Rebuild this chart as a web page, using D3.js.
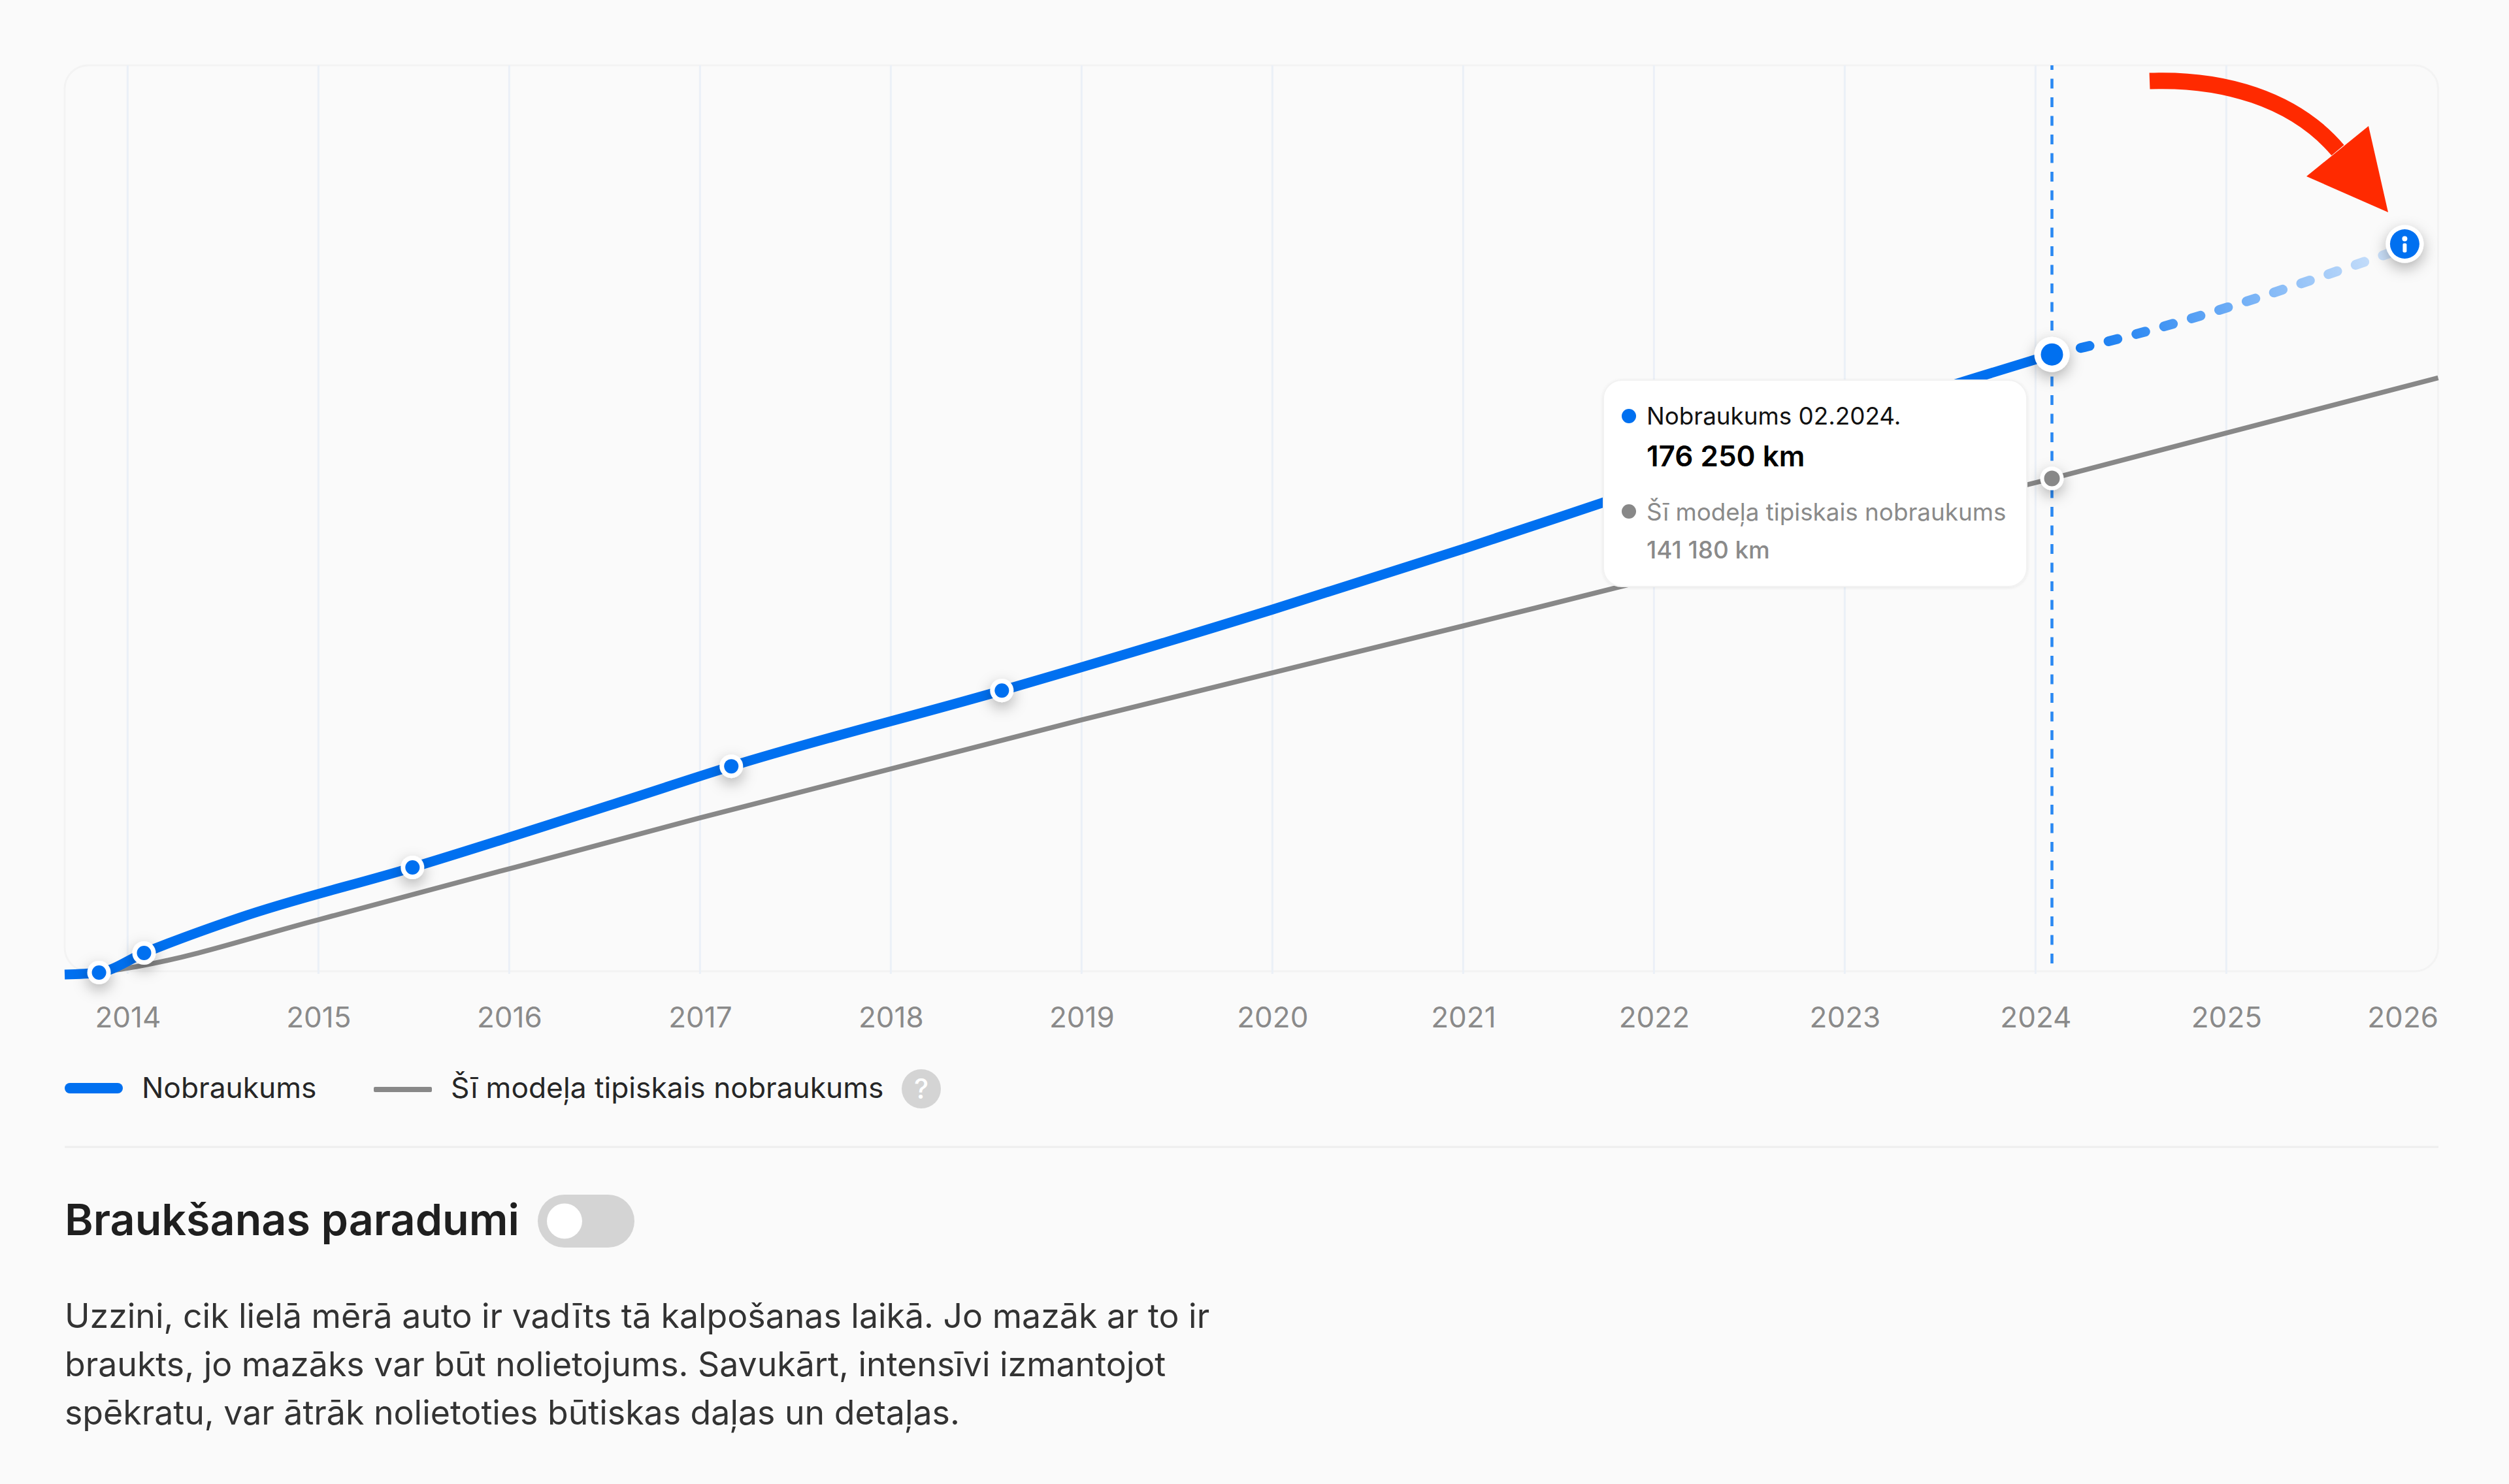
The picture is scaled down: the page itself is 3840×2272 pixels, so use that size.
<!DOCTYPE html>
<html><head><meta charset="utf-8">
<script src="https://cdn.jsdelivr.net/npm/d3@7/dist/d3.min.js"></script>
<style>
html,body{margin:0;padding:0;background:#FAFAFA;}
svg{display:block;}
text{font-family:Inter,"Noto Sans",sans-serif;}
</style></head><body>
<svg id="c" width="3840" height="2272" viewBox="0 0 3840 2272"></svg>
<script>
// ---- data ----
const mileageYears = [2013.67,2013.85,2014.086,2014.586,2015.493,2016.589,2017.164,2018.582,2020.0,2021.003,2021.723,2023.664,2024.086];
const mileageKm    = [920,1480,7015,16980,31200,49840,59810,81220,104110,121300,134200,169280,176250];
const typicalYears = [2013.85,2014.045,2015.0,2017.0,2019.0,2021.0,2024.086,2026.11];
const typicalKm    = [1480,3140,16430,45230,72920,99500,141180,169650];
const forecastYears = [2024.086,2024.257,2025.935];
const forecastKm    = [176250,178340,206400];
const infoYear = 2025.935, infoKm = 207490;
const recordYears = [2013.85,2014.086,2015.493,2017.164,2018.582];
const recordKm    = [1480,7015,31200,59810,81220];
const tickYears = [2014,2015,2016,2017,2018,2019,2020,2021,2022,2023,2024,2025,2026];
const gridYears = [2014,2015,2016,2017,2018,2019,2020,2021,2022,2023,2024,2025];
const legendLabels = ["Nobraukums","Šī modeļa tipiskais nobraukums"];
const tooltipLines = ["Nobraukums 02.2024.","176 250 km","Šī modeļa tipiskais nobraukums","141 180 km"];
const bodyLines = ["Uzzini, cik lielā mērā auto ir vadīts tā kalpošanas laikā. Jo mazāk ar to ir","braukts, jo mazāks var būt nolietojums. Savukārt, intensīvi izmantojot","spēkratu, var ātrāk nolietoties būtiskas daļas un detaļas."];
const headingText = "Braukšanas paradumi";

const BLUE="#0070F0", GRAY="#888888", RED="#FF2A00";
const pL=99,pR=3731.5,pT=100,pB=1487;
const svg=d3.select("#c");
const defs=svg.append("defs");
const xS=d3.scaleLinear().domain([2013.67,2026.11]).range([pL,pR]);
const yS=d3.scaleLinear().domain([0,258000]).range([1497,pT]);
const f=defs.append("filter").attr("id","sh").attr("x","-100%").attr("y","-100%").attr("width","300%").attr("height","300%");
f.append("feDropShadow").attr("dx",0).attr("dy",8).attr("stdDeviation",11).attr("flood-color","#000").attr("flood-opacity",.3);
const ft=defs.append("filter").attr("id","tt").attr("x","-10%").attr("y","-10%").attr("width","120%").attr("height","120%");
ft.append("feDropShadow").attr("dx",0).attr("dy",1).attr("stdDeviation",2).attr("flood-color","#000").attr("flood-opacity",.08);
const gr=defs.append("linearGradient").attr("id","fade").attr("gradientUnits","userSpaceOnUse")
 .attr("x1",xS(forecastYears[0])).attr("y1",yS(forecastKm[0])).attr("x2",xS(infoYear)).attr("y2",yS(forecastKm[2]));
gr.append("stop").attr("offset",0).attr("stop-color",BLUE);
gr.append("stop").attr("offset",1).attr("stop-color","#D8E8FB");

// plot frame
svg.append("rect").attr("x",pL).attr("y",pT).attr("width",pR-pL).attr("height",pB-pT)
 .attr("rx",36).attr("fill","#FAFAFA").attr("stroke","#F3F3F3").attr("stroke-width",3);
// grid
svg.append("g").selectAll("line").data(gridYears).join("line")
 .attr("x1",d=>xS(d)).attr("x2",d=>xS(d)).attr("y1",pT).attr("y2",pB+4)
 .attr("stroke","#EBF0F7").attr("stroke-width",3);
// axis
const axis=svg.append("g").attr("transform",`translate(0,${pB})`)
 .call(d3.axisBottom(xS).tickValues(tickYears).tickFormat(d3.format("d")).tickSize(0));
axis.select(".domain").remove();
axis.selectAll("text").attr("fill","#8A8A8A").style("font-size","44px").style("font-family","Inter")
 .attr("y",86).attr("dy",0)
 .attr("x",d=>d===2026?pR-xS(2026):0).attr("text-anchor",d=>d===2026?"end":"middle");

const lineGen=d3.line().x(d=>xS(d[0])).y(d=>yS(d[1])).curve(d3.curveMonotoneX);
const zip=(a,b)=>a.map((v,i)=>[v,b[i]]);
// typical
svg.append("path").attr("d",lineGen(zip(typicalYears,typicalKm))).attr("fill","none").attr("stroke",GRAY).attr("stroke-width",7.5);
// current marker line
svg.append("line").attr("x1",xS(2024.086)).attr("x2",xS(2024.086)).attr("y1",pT).attr("y2",1477)
 .attr("stroke","#2A88F2").attr("stroke-width",4.5).attr("stroke-dasharray","15 13.5").attr("stroke-dashoffset",8);
// forecast
svg.append("path").attr("d",lineGen(zip(forecastYears,forecastKm))).attr("fill","none").attr("stroke","url(#fade)")
 .attr("stroke-width",15).attr("stroke-linecap","round").attr("stroke-dasharray","14 30").attr("stroke-dashoffset",-45);
// mileage
svg.append("path").attr("d",lineGen(zip(mileageYears,mileageKm))).attr("fill","none").attr("stroke",BLUE).attr("stroke-width",15);

function dot(cx,cy,ro,ri,col){
  const d=svg.append("g");
  d.append("circle").attr("cx",cx).attr("cy",cy).attr("r",ro).attr("fill","#fff").attr("filter","url(#sh)");
  d.append("circle").attr("cx",cx).attr("cy",cy).attr("r",ri).attr("fill",col);
  return d;
}
recordYears.forEach((v,i)=>dot(xS(v),yS(recordKm[i]),18,11,BLUE));
dot(xS(2024.086),yS(176250),27,17,BLUE);
dot(xS(2024.086),yS(141180),18,12,GRAY);
const ix=xS(infoYear), iy=yS(infoKm);
const info=dot(ix,iy,29,22.5,BLUE);
info.append("circle").attr("cx",ix).attr("cy",iy-8).attr("r",4).attr("fill","#fff");
info.append("rect").attr("x",ix-3).attr("y",iy-1).attr("width",6).attr("height",14).attr("rx",2).attr("fill","#fff");

// tooltip
const tx=2454,ty=582;
svg.append("rect").attr("x",tx).attr("y",ty).attr("width",648).attr("height",316).attr("rx",28)
 .attr("fill","#fff").attr("stroke","#F2F2F2").attr("stroke-width",2).attr("filter","url(#tt)");
svg.append("circle").attr("cx",2493).attr("cy",637).attr("r",11).attr("fill",BLUE);
svg.append("circle").attr("cx",2493).attr("cy",783).attr("r",11).attr("fill",GRAY);
const tipStyle=[[650,36.8,400,"#111"],[714,44,600,"#000"],[797,36.8,400,"#8A8A8A"],[855,36.8,500,"#8A8A8A"]];
svg.append("g").selectAll("text").data(tooltipLines).join("text").text(d=>d)
 .attr("x",2520).attr("y",(d,i)=>tipStyle[i][0]).style("font-size",(d,i)=>tipStyle[i][1]+"px")
 .style("font-weight",(d,i)=>tipStyle[i][2]).attr("fill",(d,i)=>tipStyle[i][3]);

// red annotation arrow
svg.append("path").attr("d","M3290,124 C3400,120 3510,150 3578,230").attr("fill","none").attr("stroke",RED).attr("stroke-width",25);
svg.append("polygon").attr("points","3625,193 3530,270 3655,325").attr("fill",RED);

// legend
svg.append("rect").attr("x",99).attr("y",1658).attr("width",89).attr("height",16).attr("rx",8).attr("fill",BLUE);
svg.append("rect").attr("x",572).attr("y",1664).attr("width",89).attr("height",8).attr("rx",2).attr("fill",GRAY);
svg.append("g").selectAll("text").data(legendLabels).join("text").text(d=>d)
 .attr("x",(d,i)=>i?690:217).attr("y",1681).style("font-size","44.3px").attr("fill","#262626");
svg.append("circle").attr("cx",1410).attr("cy",1667).attr("r",30).attr("fill","#D4D4D4");
svg.append("text").text("?").attr("x",1410).attr("y",1682).attr("text-anchor","middle").style("font-size","42px").style("font-weight",500).attr("fill","#fff");

// separator
svg.append("line").attr("x1",99).attr("x2",3732).attr("y1",1756).attr("y2",1756).attr("stroke","#EDEDED").attr("stroke-width",3);

// heading + toggle
svg.append("text").text(headingText).attr("x",99).attr("y",1891).style("font-size","66.4px").style("font-weight",600).attr("fill","#1F1F1F");
svg.append("rect").attr("x",823).attr("y",1829).attr("width",148).attr("height",81).attr("rx",40.5).attr("fill","#D4D4D4");
svg.append("circle").attr("cx",864).attr("cy",1869.5).attr("r",27).attr("fill","#fff");

// paragraph
svg.append("g").selectAll("text").data(bodyLines).join("text").text(d=>d)
 .attr("x",99).attr("y",(d,i)=>2033+i*74).style("font-size","51.8px").attr("fill","#333");
</script>
</body></html>
